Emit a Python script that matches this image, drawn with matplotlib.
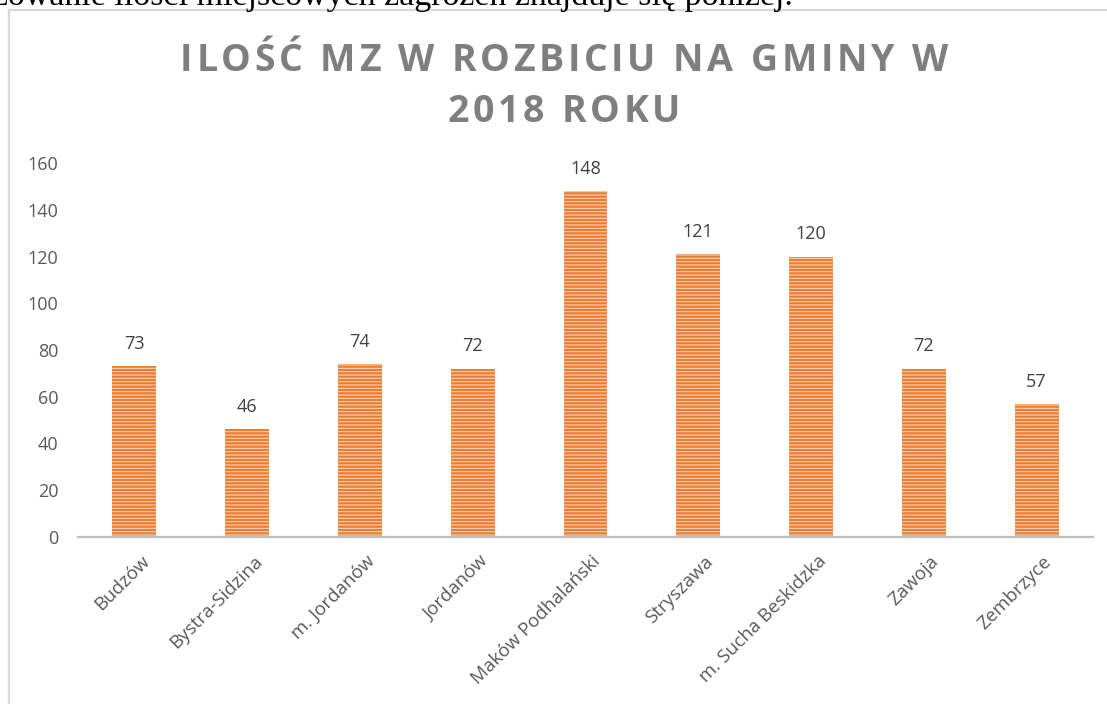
import matplotlib
matplotlib.use("Agg")
import matplotlib.pyplot as plt
import matplotlib.transforms as mtransforms
import numpy as np

# ---- data ----
categories = ["Budzów", "Bystra-Sidzina", "m. Jordanów", "Jordanów", "Maków Podhalański",
              "Stryszawa", "m. Sucha Beskidzka", "Zawoja", "Zembrzyce"]
values = [73, 46, 74, 72, 148, 121, 120, 72, 57]
yticks = [0, 20, 40, 60, 80, 100, 120, 140, 160]
title_lines = ["ILOŚĆ MZ W ROZBICIU NA GMINY W", "2018 ROKU"]
doc_text = "Zobrazowanie ilości miejscowych zagrożeń znajduje się poniżej."

W, H = 1107, 704
plt.rcParams['hatch.linewidth'] = 0.8
fig = plt.figure(figsize=(W / 100, H / 100), dpi=100)
fig.patch.set_facecolor("white")

ax = fig.add_axes([78 / W, 1 - 537 / H, (1093 - 78) / W, (537 - 163) / H])
x = np.arange(len(categories))
ax.bar(x, values, width=0.39, color="#ED7D31", edgecolor="#FAD2B6", linewidth=0,
       hatch="-----")
ax.set_xlim(-0.5, len(categories) - 0.5)
ax.set_ylim(0, 160)
ax.set_yticks(yticks)
ax.set_yticklabels([str(t) for t in yticks])
for s in ["top", "right", "left"]:
    ax.spines[s].set_visible(False)
ax.spines["bottom"].set_color("#BFBFBF")
ax.spines["bottom"].set_linewidth(1.6)
ax.tick_params(axis="y", length=0, pad=14, labelsize=13, labelcolor="#595959")
ax.tick_params(axis="x", length=0, pad=11, labelsize=13.5, labelcolor="#595959")
ax.set_xticks(x)
ax.set_xticklabels(categories, rotation=45, ha="right", va="top", rotation_mode="anchor",
                   fontfamily="Open Sans")
shift = mtransforms.ScaledTranslation(6 / 100, 0, fig.dpi_scale_trans)
for lab in ax.get_xticklabels():
    lab.set_transform(lab.get_transform() + shift)
for lab in ax.get_yticklabels():
    lab.set_fontfamily("Open Sans")
for xi, v in zip(x, values):
    ax.annotate(str(v), (xi, v), xytext=(0, 16), textcoords="offset points",
                ha="center", va="center", fontsize=13, color="#404040", fontfamily="Open Sans")

# chart frame (light grey border)
fig.add_artist(plt.Line2D([9 / W, 9 / W], [0, 1 - 10 / H], transform=fig.transFigure,
                          color="#D9D9D9", linewidth=1.6))
fig.add_artist(plt.Line2D([9 / W, 1], [1 - 10 / H, 1 - 10 / H], transform=fig.transFigure,
                          color="#D9D9D9", linewidth=1.6))

renderer = fig.canvas.get_renderer()


def text_width(s, **kw):
    t = fig.text(0, 0, s, **kw)
    w = t.get_window_extent(renderer).width
    t.remove()
    return w


# document text at top (cut off by the page edge)
visible = "rowanie ilości miejscowych zagrożeń znajduje się poniżej."
base = 20
wv = text_width(visible, fontsize=base, fontfamily="Liberation Serif")
fs_doc = base * 798 / wv
fig.text(793 / W, 1 - 5 / H, doc_text, ha="right", va="baseline",
         fontsize=fs_doc, fontfamily="Liberation Serif", color="black")

# title with letter spacing
tkw = dict(fontsize=27, fontfamily="Open Sans", fontweight="bold", color="#7F7F7F")
line1 = title_lines[0]
w_full = text_width(line1, **tkw)
spacing = (768 - w_full) / (len(line1) - 1)
bar_w = text_width("|", **tkw)


def spaced(s, xc, yb):
    total = text_width(s, **tkw) + spacing * (len(s) - 1)
    x0 = xc - total / 2
    for i, ch in enumerate(s):
        if ch == " ":
            continue
        off = text_width(s[:i] + "|", **tkw) - bar_w if i > 0 else 0
        fig.text((x0 + off + i * spacing) / W, 1 - yb / H, ch, ha="left", va="baseline", **tkw)


spaced(line1, 564, 71)
spaced(title_lines[1], 564, 122)

fig.savefig("out.png", dpi=100)
